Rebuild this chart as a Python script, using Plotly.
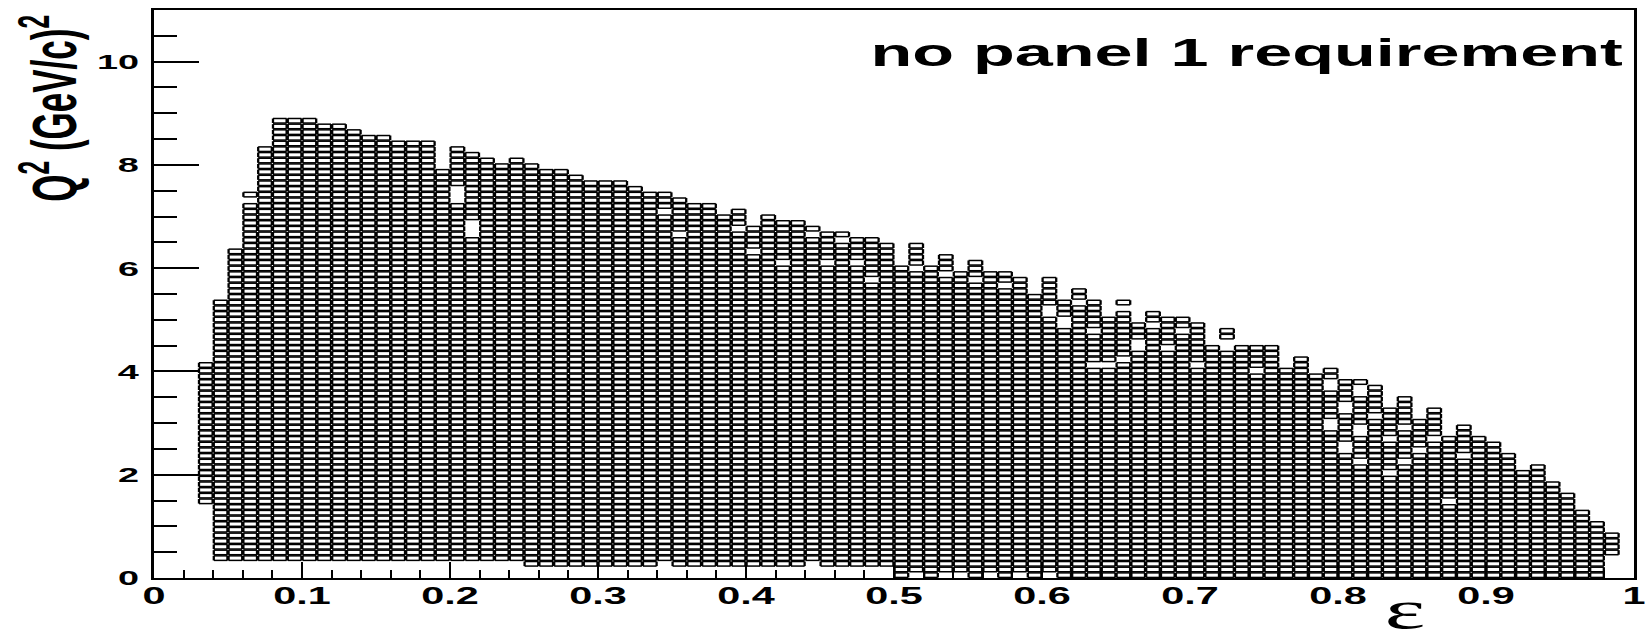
import plotly.graph_objects as go

# Binning of the 2D histogram (epsilon on x, Q^2 on y)
EPS_MIN, EPS_MAX, N_EPS = 0.0, 1.0, 100
Q2_MIN, Q2_MAX, N_Q2 = 0.0, 11.0, 100

# Filled Q^2 bin range per epsilon bin: first filled bin, one past last filled bin
col_lo = [None, None, None, 13, 3, 3, 3, 3, 3, 3,
          3, 3, 3, 3, 3, 3, 3, 3, 3, 3,
          3, 3, 3, 3, 3, 2, 2, 2, 2, 2,
          2, 2, 2, 2, 3, 2, 2, 2, 2, 2,
          2, 2, 2, 2, 3, 2, 2, 2, 2, 2,
          0, 1, 0, 1, 1, 0, 1, 0, 1, 0,
          1, 0, 0, 0, 0, 0, 0, 0, 0, 0,
          0, 0, 0, 0, 0, 0, 0, 0, 0, 0,
          0, 0, 0, 0, 0, 0, 0, 0, 0, 0,
          0, 0, 0, 0, 0, 0, 0, 0, 4, None]
col_hi = [None, None, None, 38, 49, 58, 68, 76, 81, 81,
          81, 80, 80, 79, 78, 78, 77, 77, 77, 72,
          76, 75, 74, 73, 74, 73, 72, 72, 71, 70,
          70, 70, 69, 68, 68, 67, 66, 66, 64, 65,
          62, 64, 63, 63, 62, 61, 61, 60, 60, 59,
          55, 59, 55, 57, 54, 56, 54, 54, 53, 50,
          53, 49, 51, 49, 46, 49, 45, 47, 46, 46,
          45, 41, 44, 41, 41, 41, 37, 39, 36, 37,
          35, 35, 34, 30, 32, 28, 30, 25, 27, 25,
          24, 22, 19, 20, 17, 15, 12, 10, 8, None]

# Empty cells inside the filled region: (epsilon bin, Q^2 bin)
empty_cells = [
    (6, 66),
    (20, 66), (20, 67), (20, 68), (21, 60), (21, 61), (21, 62),
    (34, 64), (35, 60), (39, 61), (40, 57), (42, 55), (44, 60), (45, 55),
    (46, 59), (47, 55), (48, 52), (51, 54), (53, 53), (55, 52), (57, 51),
    (60, 46), (60, 47), (61, 44), (61, 45), (62, 48), (63, 43), (63, 37),
    (64, 37), (65, 47), (65, 38), (66, 40), (66, 41), (67, 44), (68, 40),
    (69, 43), (70, 37), (72, 40), (72, 41), (74, 36),
    (79, 33), (79, 34), (79, 26), (79, 27), (80, 29), (80, 30), (80, 22),
    (80, 23), (81, 32), (81, 33), (81, 25), (81, 26), (81, 20), (82, 28),
    (83, 18), (83, 24), (84, 26), (84, 20), (85, 22), (86, 24), (87, 13),
    (88, 21),
]

X_TITLE = "\u03b5"
Y_TITLE = "Q<sup>2</sup> (GeV/c)<sup>2</sup>"
LABEL = "no panel 1 requirement"

# Box outlines, each slightly inset inside its bin; horizontal and vertical
# edges go to separate traces so the vertical ones can be drawn heavier
dx = (EPS_MAX - EPS_MIN) / N_EPS
dy = (Q2_MAX - Q2_MIN) / N_Q2
inset_x, inset_y = 0.04 * dx, 0.10 * dy
holes = set(empty_cells)
hx, hy, vx, vy = [], [], [], []
for i, (lo, hi) in enumerate(zip(col_lo, col_hi)):
    if lo is None:
        continue
    x0 = EPS_MIN + i * dx + inset_x
    x1 = EPS_MIN + (i + 1) * dx - inset_x
    for k in range(lo, hi):
        if (i, k) in holes:
            continue
        y0 = Q2_MIN + k * dy + inset_y
        y1 = Q2_MIN + (k + 1) * dy - inset_y
        hx += [x0, x1, None, x0, x1, None]
        hy += [y0, y0, None, y1, y1, None]
        vx += [x0, x0, None, x1, x1, None]
        vy += [y0, y1, None, y0, y1, None]

fig = go.Figure([
    go.Scatter(x=hx, y=hy, mode="lines", line=dict(color="black", width=1.5),
               hoverinfo="skip", showlegend=False),
    go.Scatter(x=vx, y=vy, mode="lines", line=dict(color="black", width=2.3),
               hoverinfo="skip", showlegend=False),
])

axis_common = dict(showline=True, linecolor="black", mirror=True,
                   ticks="inside", tickcolor="black", tickwidth=1.5,
                   showgrid=False, zeroline=False)

fig.update_xaxes(range=[EPS_MIN, EPS_MAX], tick0=0, dtick=0.1, ticklen=16,
                 linewidth=2, ticklabelstandoff=-4,
                 tickfont=dict(family="Liberation Sans", size=23, color="black", weight="bold"),
                 minor=dict(dtick=0.02, ticks="inside", ticklen=8,
                            tickcolor="black", tickwidth=1.5, showgrid=False),
                 **axis_common)
fig.update_yaxes(range=[Q2_MIN, Q2_MAX], tick0=0, dtick=2, ticklen=45,
                 linewidth=2.6, ticklabelstandoff=8,
                 tickfont=dict(family="Liberation Sans", size=21, color="black", weight="bold"),
                 minor=dict(dtick=0.5, ticks="inside", ticklen=23,
                            tickcolor="black", tickwidth=1.5, showgrid=False),
                 **axis_common)

fig.update_layout(
    width=1647, height=635,
    margin=dict(l=154, r=6, t=10, b=57),
    paper_bgcolor="white", plot_bgcolor="white",
    annotations=[
        dict(text=LABEL, xref="paper", yref="paper", x=0.994, y=0.924,
             xanchor="right", yanchor="middle", align="right", showarrow=False,
             font=dict(family="Liberation Sans", size=38, color="black", weight="bold")),
        dict(text=X_TITLE, xref="paper", yref="paper", x=0.845, y=-0.056,
             xanchor="center", yanchor="middle", showarrow=False,
             width=34, height=40,
             font=dict(family="Liberation Serif", size=54, color="black")),
        dict(text=Y_TITLE, xref="paper", yref="paper", x=-0.071, y=0.996,
             xanchor="center", yanchor="top", textangle=-90, showarrow=False,
             font=dict(family="Liberation Sans", size=35, color="black", weight="bold")),
    ],
)

# Text is drawn wide across the page: stretch each label along the page's
# horizontal direction about its anchor point
TEXT_STRETCH = 1.8
WIDE_ANNOTATIONS = [0, 1]
ROTATED_ANNOTATIONS = [2]
post = """
var gd = document.getElementById('{plot_id}');
var s = %s;
function widen(el) {
  var bb = el.getBBox();
  var a = el.getAttribute('text-anchor') || 'start';
  var px = a === 'middle' ? bb.x + bb.width / 2 : (a === 'end' ? bb.x + bb.width : bb.x);
  var t = el.getAttribute('transform') || '';
  el.setAttribute('transform', t + ' translate(' + px + ',0) scale(' + s + ',1) translate(' + (-px) + ',0)');
}
function thicken(el) {
  var bb = el.getBBox();
  var py = bb.y + bb.height / 2;
  var t = el.getAttribute('transform') || '';
  el.setAttribute('transform', t + ' translate(0,' + py + ') scale(1,' + s + ') translate(0,' + (-py) + ')');
}
function ann(i) {
  return gd.querySelector('.annotation[data-index="' + i + '"] text.annotation-text');
}
gd.querySelectorAll('.xtick text, .ytick text').forEach(widen);
%s.forEach(function (i) { var el = ann(i); if (el) { widen(el); } });
%s.forEach(function (i) { var el = ann(i); if (el) { thicken(el); } });
""" % (TEXT_STRETCH, WIDE_ANNOTATIONS, ROTATED_ANNOTATIONS)

fig.write_html("out.html", post_script=post)
